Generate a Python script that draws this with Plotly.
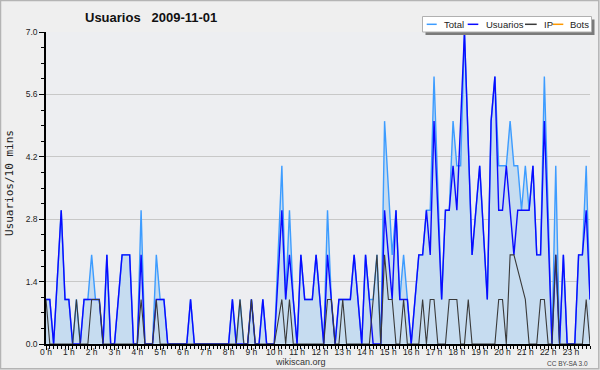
import plotly.graph_objects as go

# ---------------- data (10-minute slots, 0 h .. 23:50) ----------------
slots = list(range(144))
hour_ticks = list(range(0, 144, 6))
hour_labels = [f"{h} h" for h in range(24)]
y_ticks = [0.0, 1.4, 2.8, 4.2, 5.6, 7.0]
y_labels = ["0.0", "1.4", "2.8", "4.2", "5.6", "7.0"]

total = [
    1, 1, 0, None, 3, 1, 1, 0, 1, 0, 1, 1,
    2, 1, 1, 0, 2, 0, 0, 1, 2, 2, 2, 0,
    0, 3, 0, 0, 0, 2, 1, 1, 0, 0, 0, 0,
    0, 0, 1, 0, 0, 0, 0, 0, 0, 0, 0, 0,
    0, 1, 0, 1, 0, 0, 1, 0, 0, 1, 0, 0,
    0, None, 4, 1, 3, 1, 0, 2, 1, 1, 1, 2,
    1, 0, 3, 1, 0, 1, 1, 1, 1, 2, 1, 0,
    2, 1, 1, 2, 0, 5, None, 2, 3, 1, 2, 1,
    0, 1, 2, 2, 3, 3, 6, None, 1, 3, 3, 5,
    4, 4, 7, None, 2, 3, 4, None, 1, 5, 6, 4,
    4, 4, 5, 4, 4, 3, 4, 3, 4, 2, 2, 6,
    None, 0, 4, 0, 2, 0, 0, 0, 2, 2, 4, 1,
]

usuarios = [
    1, 1, 0, None, 3, 1, 1, 0, 0, 0, 1, 1,
    1, 1, 1, 0, 2, 0, 0, 1, 2, 2, 2, 0,
    0, 2, 0, 0, 0, 1, 1, 1, 0, 0, 0, 0,
    0, 0, 1, 0, 0, 0, 0, 0, 0, 0, 0, 0,
    0, 1, 0, 0, 0, 0, 1, 0, 0, 1, 0, 0,
    0, None, 3, 1, 2, 1, 0, 2, 1, 1, 1, 2,
    1, 0, 2, 1, 0, 1, 1, 1, 1, 2, 1, 0,
    2, 1, 0, 0, 0, 3, 2, 1, 3, 1, 1, 1,
    0, 1, 2, 2, 3, 2, 5, 3, 1, 3, 3, 4,
    3, 5, 7, None, 2, 3, 4, None, 1, 5, 6, 3,
    3, 4, 3, 2, 3, 3, 3, 3, 4, 2, 2, 5,
    None, 0, 2, 0, 2, 0, 0, 0, 2, 2, 3, 1,
]

ip = [
    1, 0, 0, 0, 0, 0, 0, 0, 1, 0, 0, 0,
    1, 1, 1, 0, 0, 0, 0, 0, 0, 0, 0, 0,
    0, 1, 0, 0, 0, 1, 0, 0, 0, 0, 0, 0,
    0, 0, 0, 0, 0, 0, 0, 0, 0, 0, 0, 0,
    0, 0, 0, 1, 0, 0, 1, 0, 0, 0, 0, 0,
    0, None, 1, 0, 1, 0, 0, 0, 0, 0, 0, 0,
    0, 0, 1, 1, 0, 0, 1, 0, 0, 0, 0, 0,
    0, 0, 1, 2, 0, 2, 1, 1, 0, 0, 1, 0,
    0, 0, 0, 1, 0, 1, 1, 0, 0, 0, 1, 1,
    1, 0, 0, 1, 0, 0, 0, 0, 0, 0, 0, 1,
    1, 0, 2, 2, None, None, 1, 0, 0, 0, 1, 1,
    0, 0, 2, 0, 0, 0, 0, 0, 0, 0, 1, 0,
]

bots = [
    0, 0, 0, 0, 0, 0, 0, 0, 0, 0, 0, 0,
    0, 0, 0, 0, 0, 0, 0, 0, 0, 0, 0, 0,
    0, 0, 0, 0, 0, 0, 0, 0, 0, 0, 0, 0,
    0, 0, 0, 0, 0, 0, 0, 0, 0, 0, 0, 0,
    0, 0, 0, 0, 0, 0, 0, 0, 0, 0, 0, 0,
    0, 0, 0, 0, 0, 0, 0, 0, 0, 0, 0, 0,
    0, 0, 0, 0, 0, 0, 0, 0, 0, 0, 0, 0,
    0, 0, 0, 0, 0, 0, 0, 0, 0, 0, 0, 0,
    0, 0, 0, 0, 0, 0, 0, 0, 0, 0, 0, 0,
    0, 0, 0, 0, 0, 0, 0, 0, 0, 0, 0, 0,
    0, 0, 0, 0, 0, 0, 0, 0, 0, 0, 0, 0,
    0, 0, 0, 0, 0, 0, 0, 0, 0, 0, 0, 0,
]

series_names = ["Total", "Usuarios", "IP", "Bots"]
series_colors = ["#3d9cff", "#0a0aff", "#3a3a3a", "#ff9900"]

# ---------------- layout geometry ----------------
W, H = 600, 370
ML, MR, MT, MB = 46, 10, 32, 26
PW, PH = W - ML - MR, H - MT - MB


def px(x):
    return (x - ML) / PW


def py(y):
    return (H - MB - y) / PH


SANS = "Liberation Sans, Arial, sans-serif"

fig = go.Figure()
# bots first so that the all-zero series sits under the other zero lines
fig.add_trace(go.Scatter(x=slots, y=bots, name=series_names[3], mode="lines",
                         connectgaps=True, line=dict(color=series_colors[3], width=1)))
fig.add_trace(go.Scatter(x=slots, y=total, name=series_names[0], mode="lines",
                         fill="tozeroy", fillcolor="#c6dcf0", connectgaps=True,
                         line=dict(color=series_colors[0], width=1.4)))
fig.add_trace(go.Scatter(x=slots, y=usuarios, name=series_names[1], mode="lines",
                         connectgaps=True, line=dict(color=series_colors[1], width=1.4)))
fig.add_trace(go.Scatter(x=slots, y=ip, name=series_names[2], mode="lines",
                         connectgaps=True, line=dict(color=series_colors[2], width=1.1)))

fig.update_layout(
    width=W, height=H,
    margin=dict(l=ML, r=MR, t=MT, b=MB, pad=0, autoexpand=False),
    paper_bgcolor="#efefef", plot_bgcolor="#edeef1",
    showlegend=False,
    font=dict(family=SANS, size=9, color="#222222"),
)
fig.update_xaxes(
    range=[0, 143], tickmode="array", tickvals=hour_ticks, ticktext=hour_labels,
    ticks="outside", ticklen=4, tickwidth=1, tickcolor="black",
    minor=dict(ticks="outside", ticklen=3, tickwidth=1, tickcolor="black",
               tick0=0, dtick=1, showgrid=False),
    showgrid=False, zeroline=False, showline=True, linecolor="black", linewidth=1.5,
    tickfont=dict(family=SANS, size=8.5, color="#222222"), fixedrange=True,
    automargin=False, ticklabelstandoff=-5,
)
fig.update_yaxes(
    range=[0, 7], tickmode="array", tickvals=y_ticks, ticktext=y_labels,
    ticks="outside", ticklen=5, tickwidth=1, tickcolor="black",
    minor=dict(ticks="outside", ticklen=3, tickwidth=1, tickcolor="black",
               tick0=0, dtick=0.35, showgrid=False),
    showgrid=True, gridcolor="#c8c8c8", gridwidth=1,
    zeroline=False, showline=True, linecolor="black", linewidth=1.5,
    tickfont=dict(family=SANS, size=8.5, color="#222222"), fixedrange=True,
    automargin=False,
)

shapes = []
# outer frame of the picture
shapes.append(dict(type="rect", xref="paper", yref="paper",
                   x0=px(0.5), x1=px(598.8), y0=py(368.8), y1=py(0.5),
                   line=dict(color="#b4b4b4", width=1.5), fillcolor="rgba(0,0,0,0)",
                   layer="above"))
# legend box with shadow
shapes.append(dict(type="rect", xref="paper", yref="paper",
                   x0=px(425.5), x1=px(594.5), y0=py(35), y1=py(19.5),
                   line=dict(width=0), fillcolor="#7a7a7a", layer="above"))
shapes.append(dict(type="rect", xref="paper", yref="paper",
                   x0=px(422.5), x1=px(591.5), y0=py(32), y1=py(16.5),
                   line=dict(color="#b0b0b0", width=1), fillcolor="white", layer="above"))

legend_line_x = [(426.7, 436.7), (467.7, 478.3), (525.0, 536.7), (552.7, 563.3)]
legend_text_x = [442.0, 483.5, 542.0, 567.5]
legend_y = 24.3
annotations = []
for name, color, (lx0, lx1), tx in zip(series_names, series_colors, legend_line_x, legend_text_x):
    shapes.append(dict(type="line", xref="paper", yref="paper",
                       x0=px(lx0), x1=px(lx1), y0=py(legend_y), y1=py(legend_y),
                       line=dict(color=color, width=1.5), layer="above"))
    annotations.append(dict(text=name, xref="paper", yref="paper",
                            x=px(tx), y=py(legend_y), xanchor="left", yanchor="middle",
                            showarrow=False, font=dict(family=SANS, size=9.5, color="#222222")))

annotations.append(dict(text="<b>Usuarios\u00a0\u00a0 2009-11-01</b>", xref="paper", yref="paper",
                        x=px(150.5), y=py(17.5), xanchor="center", yanchor="middle",
                        showarrow=False, font=dict(family=SANS, size=13, color="#111111")))
annotations.append(dict(text="Usuarios/10 mins", xref="paper", yref="paper",
                        x=px(10), y=py(183), xanchor="center", yanchor="middle",
                        textangle=-90, showarrow=False,
                        font=dict(family="DejaVu Sans Mono, monospace", size=11, color="#222222")))
annotations.append(dict(text="wikiscan.org", xref="paper", yref="paper",
                        x=px(300.5), y=py(362), xanchor="center", yanchor="middle",
                        showarrow=False, font=dict(family=SANS, size=9, color="#333333")))
annotations.append(dict(text="CC BY-SA 3.0", xref="paper", yref="paper",
                        x=px(589.5), y=py(363), xanchor="right", yanchor="middle",
                        showarrow=False, font=dict(family=SANS, size=6.5, color="#444444")))

fig.update_layout(shapes=shapes, annotations=annotations)
fig.write_html(
    "out.html",
    config={"displayModeBar": False},
    post_script="document.body.style.margin='0';document.body.style.padding='0';"
                "document.documentElement.style.margin='0';",
)
